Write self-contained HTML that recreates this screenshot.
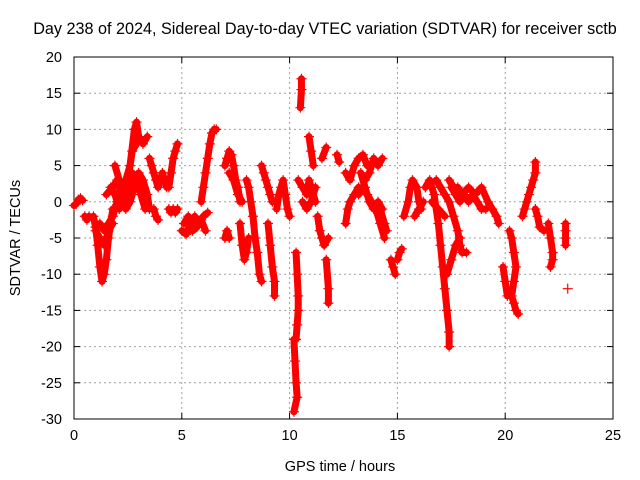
<!DOCTYPE html>
<html><head><meta charset="utf-8"><style>
body{margin:0;background:#fff}
svg{display:block;font-family:"Liberation Sans",sans-serif}
</style></head><body>
<svg id="chart" width="640" height="480">
<text x="325" y="34" text-anchor="middle" font-size="16.2">Day 238 of 2024, Sidereal Day-to-day VTEC variation (SDTVAR) for receiver sctb</text>
<g id="grid"></g>
<g id="axes"></g>
<g id="marks"></g>
<text x="340" y="471" text-anchor="middle" font-size="14.5">GPS time / hours</text>
<text transform="translate(20,238) rotate(-90)" text-anchor="middle" font-size="14.5">SDTVAR / TECUs</text>
</svg>
<script>
const xTicks=[0,5,10,15,20,25];
const yTicks=[20,15,10,5,0,-5,-10,-15,-20,-25,-30];
const tracks=[
[[0,-0.5],[0.1,-0.3],[0.2,0.3],[0.3,0.5],[0.4,0.2]],
[[0.5,-2],[0.6,-2.5],[0.7,-2]],
[[0.9,-2],[1.0,-3.5],[1.1,-6],[1.2,-9],[1.3,-11],[1.4,-10],[1.5,-8],[1.6,-5],[1.7,-3],[1.8,-1]],
[[1.0,-4],[1.2,-5],[1.4,-6],[1.6,-4],[1.8,-3]],
[[1.2,-3],[1.4,-4],[1.6,-3],[1.8,-2],[2.0,0],[2.2,2],[2.4,3],[2.6,5],[2.8,10],[2.9,11],[3.0,9],[3.2,8],[3.4,9]],
[[1.5,1],[1.8,2],[2.0,3],[2.2,1],[2.4,-1],[2.6,0],[2.8,2],[3.0,4],[3.2,3],[3.4,1],[3.5,-1]],
[[1.7,2],[1.9,1],[2.1,-1],[2.3,0],[2.5,2],[2.7,4],[2.9,3],[3.1,1],[3.3,-1]],
[[1.9,5],[2.1,3],[2.3,2],[2.5,3],[2.7,7],[2.9,8]],
[[3.5,6],[3.6,5],[3.7,4],[3.8,3],[3.9,2],[4.0,3],[4.1,4],[4.2,3],[4.3,2]],
[[3.7,-1],[3.8,-2],[3.9,-2.5]],
[[4.4,-1],[4.5,-1.5],[4.6,-1],[4.7,-1.5],[4.8,-1]],
[[4.4,2],[4.5,4],[4.6,6],[4.7,7],[4.8,8]],
[[5.0,-4],[5.2,-4.5],[5.4,-3],[5.6,-2],[5.8,-3],[6.0,-2],[6.2,-1.5]],
[[5.1,-3],[5.3,-2],[5.5,-4],[5.7,-3.5],[5.9,-2.5],[6.1,-4]],
[[5.9,0],[6.0,2],[6.1,4],[6.2,6],[6.3,8],[6.4,9.5],[6.5,10],[6.6,10]],
[[7.0,5],[7.1,6],[7.2,7],[7.3,6.5],[7.4,5],[7.5,3],[7.6,2],[7.7,0]],
[[7.2,4],[7.4,3],[7.6,1],[7.8,0]],
[[7.0,-5],[7.1,-4],[7.2,-5]],
[[7.7,-3],[7.8,-6],[7.9,-8],[8.0,-7],[8.1,-5]],
[[8.0,3],[8.1,2],[8.2,0],[8.3,-2],[8.4,-5],[8.5,-7],[8.6,-10],[8.7,-11]],
[[8.7,5],[8.8,4],[8.9,3],[9.0,2],[9.1,1],[9.2,0]],
[[9.0,-3],[9.1,-6],[9.2,-9],[9.3,-11],[9.3,-13]],
[[9.4,-1],[9.5,1],[9.6,2],[9.7,3],[9.8,1],[9.9,-1],[10.0,-2]],
[[10.2,-19],[10.25,-22],[10.3,-25],[10.35,-27],[10.2,-29]],
[[10.3,-7],[10.35,-10],[10.4,-13],[10.4,-15],[10.35,-17],[10.3,-19]],
[[10.5,13],[10.55,15.5],[10.55,17]],
[[10.4,3],[10.6,2],[10.8,1],[10.9,3],[11.0,2],[11.2,0]],
[[10.6,0],[10.8,-1],[11.0,0],[11.2,2]],
[[10.9,9],[11.0,7],[11.1,5]],
[[11.3,-2],[11.4,-4],[11.5,-5],[11.6,-6],[11.8,-5]],
[[11.7,-8],[11.8,-12],[11.8,-14]],
[[11.5,6],[11.7,7.5]],
[[12.2,6.5],[12.3,5.5]],
[[12.6,-3],[12.7,-1],[12.8,0],[13.0,1],[13.2,2]],
[[12.6,4],[12.8,3],[13.0,5],[13.2,6],[13.4,6.5],[13.6,5]],
[[13.2,1],[13.4,2],[13.6,1],[13.8,0],[14.0,-1],[14.2,-3],[14.4,-5]],
[[13.3,4],[13.5,2],[13.7,0],[13.9,-1],[14.1,0],[14.3,-1]],
[[13.5,3],[13.7,4],[13.9,6],[14.1,5],[14.3,6]],
[[14.2,-1],[14.4,-3],[14.5,-4]],
[[14.7,-8],[14.8,-9],[14.9,-10]],
[[15.0,-8],[15.1,-7],[15.2,-6.5]],
[[15.3,-2],[15.5,0],[15.6,2],[15.7,3],[15.9,2],[16.0,0],[16.1,-1]],
[[15.8,-2],[16.0,-1],[16.2,0]],
[[16.3,2],[16.5,3],[16.7,1],[16.9,-3],[17.0,-6],[17.1,-9],[17.2,-12],[17.3,-15],[17.4,-18],[17.4,-20]],
[[16.8,3],[17.0,2],[17.2,1],[17.4,0],[17.6,-2],[17.8,-4],[17.9,-6],[18.0,-7],[18.2,-7]],
[[17.3,-10],[17.5,-8],[17.7,-6],[17.9,-5]],
[[17.5,2],[17.7,1],[17.9,0],[18.1,1],[18.3,0],[18.5,1],[18.7,0],[18.9,-1],[19.1,-1]],
[[16.6,0],[16.9,-1],[17.2,-2]],
[[17.4,3],[17.6,2],[17.8,2],[18.0,1],[18.3,2],[18.6,1],[18.9,2],[19.2,0],[19.4,-1],[19.6,-2],[19.7,-3]],
[[19.9,-9],[20.0,-11],[20.1,-13]],
[[20.2,-4],[20.3,-5],[20.4,-7],[20.5,-9],[20.4,-11],[20.3,-13],[20.4,-14],[20.5,-15],[20.6,-15.5]],
[[20.8,-2],[20.9,-1],[21.0,0],[21.1,1],[21.2,2],[21.3,3],[21.4,4],[21.4,5.5]],
[[21.4,-1],[21.5,-2],[21.6,-3.5],[21.8,-4]],
[[22.0,-3],[22.1,-5],[22.2,-7],[22.2,-8],[22.1,-9]],
[[22.8,-3],[22.8,-4],[22.8,-5],[22.8,-6]],
[[22.9,-12]]
];
const L=74,R=613,T=57,B=419,xMin=0,xMax=25,yMin=-30,yMax=20;
const sx=v=>L+(v-xMin)/(xMax-xMin)*(R-L);
const sy=v=>B-(v-yMin)/(yMax-yMin)*(B-T);
const NS="http://www.w3.org/2000/svg";
function mk(tag,attrs,parent){const e=document.createElementNS(NS,tag);for(const k in attrs)e.setAttribute(k,attrs[k]);parent.appendChild(e);return e;}
const grid=document.getElementById('grid'),axes=document.getElementById('axes'),marks=document.getElementById('marks');
xTicks.forEach(t=>{
 const x=sx(t);
 if(t>xMin&&t<xMax){const g=mk('line',{x1:x,y1:T,x2:x,y2:B,stroke:'#a0a0a0','stroke-dasharray':'2,3'},grid);
 
 }
 mk('line',{x1:x,y1:B,x2:x,y2:B-6,stroke:'#000'},axes);
 mk('line',{x1:x,y1:T,x2:x,y2:T+6,stroke:'#000'},axes);
 const tx=mk('text',{x:x,y:B+21,'text-anchor':'middle','font-size':'14.5'},axes);tx.textContent=t;
 
 
});
yTicks.forEach(t=>{
 const y=sy(t);
 if(t>yMin&&t<yMax){const g=mk('line',{x1:L,y1:y,x2:R,y2:y,stroke:'#a0a0a0','stroke-dasharray':'2,3'},grid);
 
 }
 mk('line',{x1:L,y1:y,x2:L+6,y2:y,stroke:'#000'},axes);
 mk('line',{x1:R,y1:y,x2:R-6,y2:y,stroke:'#000'},axes);
 const tx=mk('text',{x:L-12,y:y+5,'text-anchor':'end','font-size':'14.5'},axes);tx.textContent=t;
 
 
});
const bd=mk('rect',{x:L,y:T,width:R-L,height:B-T,fill:'none',stroke:'#000'},axes);


tracks.forEach(tr=>{
 const pl=mk('polyline',{points:tr.map(p=>sx(p[0])+','+sy(p[1])).join(' '),fill:'none',stroke:'#f00','stroke-width':7,'stroke-linejoin':'round','stroke-linecap':'round'},marks);
 
 
 tr.forEach(p=>{
  const x=sx(p[0]),y=sy(p[1]);
  const m=mk('path',{d:`M${x-5},${y}H${x+5}M${x},${y-5}V${y+5}`,stroke:'#f00','stroke-width':1.2},marks);
  
  
 });
});
</script>
</body></html>
